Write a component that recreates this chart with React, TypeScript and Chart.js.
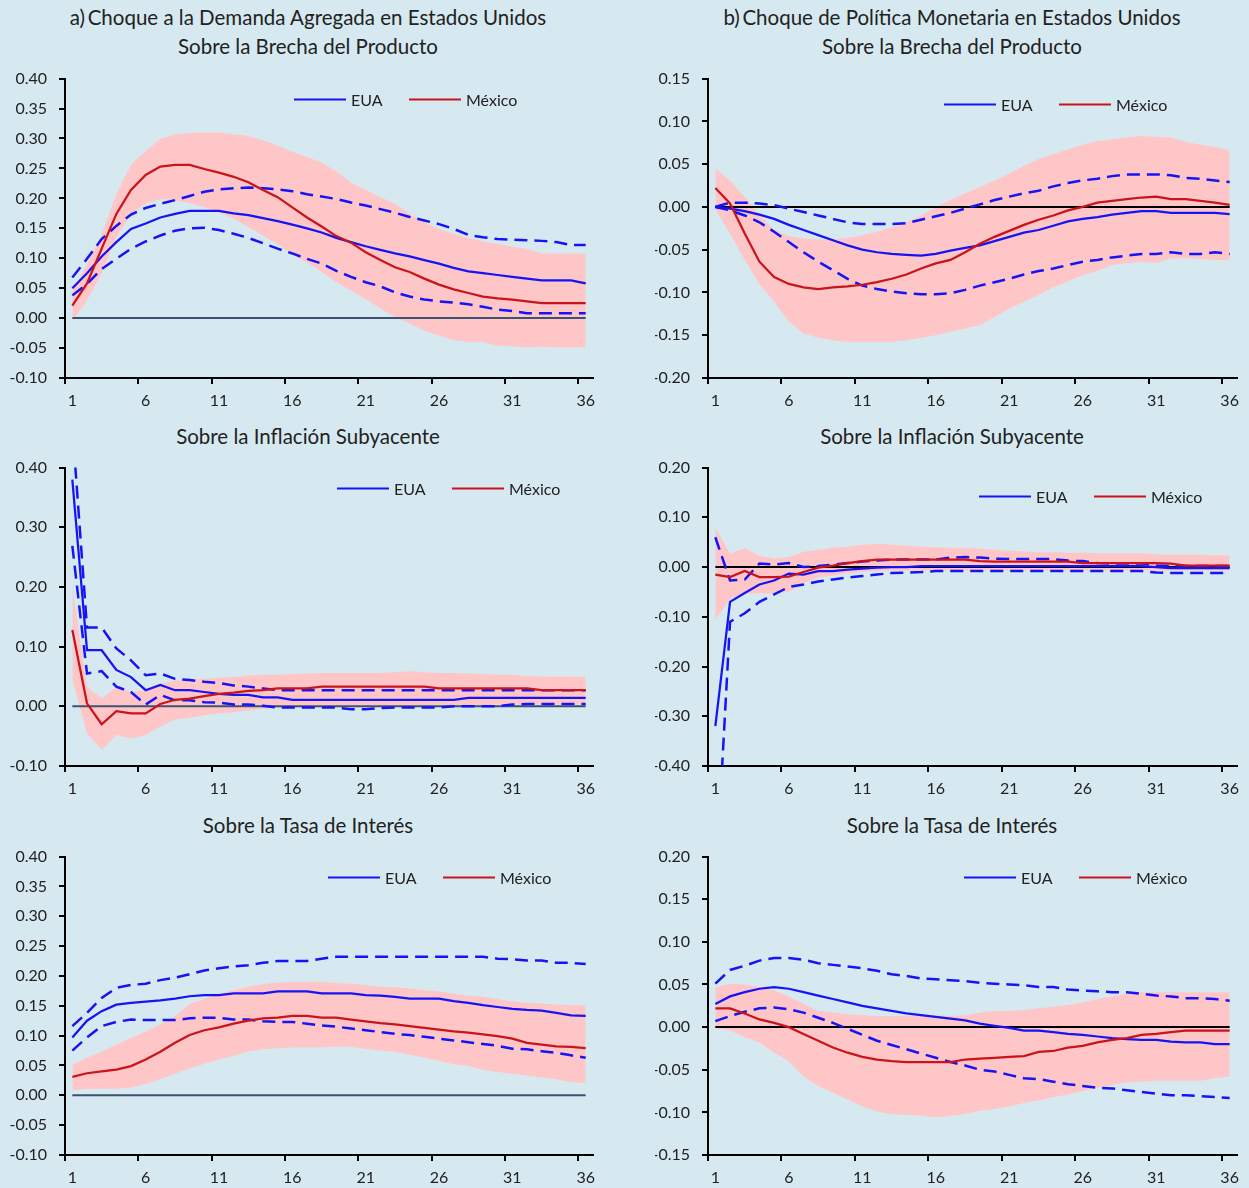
import React, { useEffect, useRef } from "react";
import { Chart, registerables } from "chart.js";

Chart.register(...registerables);

// ---------- Data ----------
const periods = ["1","2","3","4","5","6","7","8","9","10","11","12","13","14","15","16","17","18","19","20","21","22","23","24","25","26","27","28","29","30","31","32","33","34","35","36"];
const zeroLine = [0,0,0,0,0,0,0,0,0,0,0,0,0,0,0,0,0,0,0,0,0,0,0,0,0,0,0,0,0,0,0,0,0,0,0,0];

// a) Demanda agregada EUA -> Brecha del producto
const a1Mex = [0.021,0.058,0.116,0.174,0.214,0.239,0.253,0.256,0.256,0.249,0.243,0.236,0.227,0.214,0.202,0.185,0.168,0.153,0.137,0.126,0.110,0.097,0.085,0.077,0.066,0.056,0.048,0.042,0.036,0.033,0.031,0.028,0.025,0.025,0.025,0.025];
const a1MexHi = [0.045,0.090,0.140,0.207,0.256,0.279,0.299,0.307,0.309,0.310,0.310,0.307,0.304,0.297,0.288,0.278,0.269,0.260,0.245,0.226,0.214,0.202,0.191,0.174,0.160,0.149,0.141,0.134,0.128,0.124,0.119,0.116,0.108,0.108,0.108,0.108];
const a1MexLo = [-0.005,0.030,0.074,0.135,0.174,0.191,0.199,0.197,0.192,0.185,0.177,0.166,0.152,0.138,0.123,0.107,0.093,0.077,0.060,0.046,0.032,0.016,0.002,-0.009,-0.021,-0.029,-0.037,-0.040,-0.040,-0.046,-0.047,-0.049,-0.048,-0.049,-0.049,-0.049];
const a1Eua = [0.050,0.075,0.103,0.127,0.149,0.158,0.168,0.174,0.179,0.179,0.179,0.175,0.172,0.167,0.162,0.156,0.150,0.143,0.134,0.127,0.120,0.114,0.108,0.103,0.097,0.091,0.084,0.078,0.075,0.072,0.069,0.066,0.063,0.063,0.063,0.058];
const a1EuaHi = [0.068,0.099,0.132,0.154,0.173,0.184,0.191,0.197,0.204,0.211,0.215,0.217,0.218,0.217,0.215,0.212,0.207,0.203,0.199,0.193,0.188,0.182,0.176,0.169,0.163,0.157,0.149,0.139,0.135,0.132,0.131,0.130,0.129,0.127,0.122,0.122];
const a1EuaLo = [0.038,0.057,0.082,0.099,0.116,0.128,0.138,0.146,0.150,0.151,0.147,0.141,0.134,0.125,0.116,0.108,0.099,0.091,0.079,0.069,0.060,0.053,0.043,0.036,0.031,0.028,0.026,0.023,0.019,0.014,0.012,0.008,0.008,0.008,0.008,0.008];

// b) Política monetaria EUA -> Brecha del producto
const b1Mex = [0.022,0.004,-0.031,-0.064,-0.082,-0.090,-0.094,-0.096,-0.094,-0.093,-0.091,-0.088,-0.084,-0.079,-0.072,-0.066,-0.062,-0.053,-0.043,-0.035,-0.028,-0.021,-0.015,-0.010,-0.004,0.000,0.005,0.007,0.009,0.011,0.012,0.009,0.009,0.007,0.005,0.0025];
const b1MexHi = [0.045,0.031,0.012,-0.010,-0.027,-0.034,-0.037,-0.038,-0.038,-0.036,-0.033,-0.029,-0.024,-0.018,-0.010,0.000,0.008,0.016,0.023,0.031,0.039,0.048,0.056,0.062,0.067,0.073,0.077,0.079,0.081,0.083,0.082,0.081,0.076,0.073,0.070,0.066];
const b1MexLo = [-0.003,-0.031,-0.062,-0.090,-0.111,-0.134,-0.148,-0.153,-0.156,-0.158,-0.158,-0.158,-0.158,-0.156,-0.153,-0.150,-0.146,-0.142,-0.138,-0.129,-0.119,-0.111,-0.103,-0.094,-0.087,-0.080,-0.075,-0.068,-0.066,-0.064,-0.066,-0.060,-0.060,-0.061,-0.062,-0.062];
const b1Eua = [0,-0.002,-0.005,-0.009,-0.014,-0.021,-0.027,-0.033,-0.039,-0.045,-0.050,-0.053,-0.055,-0.056,-0.057,-0.055,-0.051,-0.048,-0.045,-0.040,-0.035,-0.030,-0.027,-0.022,-0.017,-0.014,-0.012,-0.009,-0.007,-0.005,-0.005,-0.007,-0.007,-0.007,-0.007,-0.0085];
const b1EuaHi = [0,0.005,0.005,0.004,0.002,-0.002,-0.006,-0.010,-0.014,-0.018,-0.020,-0.020,-0.020,-0.019,-0.015,-0.011,-0.007,-0.002,0.003,0.008,0.012,0.016,0.019,0.024,0.028,0.031,0.033,0.036,0.038,0.038,0.038,0.037,0.034,0.033,0.031,0.029];
const b1EuaLo = [0,-0.004,-0.010,-0.018,-0.029,-0.041,-0.053,-0.064,-0.074,-0.084,-0.092,-0.096,-0.099,-0.101,-0.102,-0.102,-0.101,-0.097,-0.092,-0.088,-0.084,-0.079,-0.075,-0.072,-0.068,-0.064,-0.062,-0.059,-0.057,-0.055,-0.055,-0.053,-0.055,-0.055,-0.053,-0.055];

// a) -> Inflación subyacente
const a2Mex = [0.128,0.005,-0.030,-0.008,-0.012,-0.012,0.004,0.011,0.013,0.017,0.021,0.023,0.026,0.027,0.030,0.030,0.030,0.033,0.033,0.033,0.033,0.033,0.033,0.033,0.033,0.030,0.030,0.030,0.030,0.030,0.030,0.030,0.027,0.027,0.027,0.027];
const a2MexHi = [0.200,0.033,0.013,0.033,0.024,0.027,0.038,0.043,0.045,0.046,0.048,0.049,0.052,0.053,0.053,0.054,0.055,0.056,0.056,0.056,0.056,0.056,0.057,0.059,0.057,0.056,0.056,0.055,0.054,0.053,0.053,0.051,0.050,0.050,0.050,0.050];
const a2MexLo = [0.045,-0.045,-0.073,-0.048,-0.054,-0.048,-0.034,-0.022,-0.019,-0.015,-0.012,-0.010,-0.007,-0.004,-0.003,-0.002,-0.001,0.000,0.000,0.001,0.001,0.001,0.001,0.001,0.002,0.002,0.002,0.002,0.002,0.003,0.003,0.003,0.003,0.003,0.003,0.003];
const a2Eua = [0.380,0.094,0.094,0.061,0.049,0.027,0.036,0.027,0.027,0.024,0.021,0.019,0.019,0.015,0.015,0.011,0.011,0.011,0.011,0.011,0.011,0.011,0.011,0.011,0.011,0.011,0.011,0.014,0.014,0.014,0.014,0.014,0.014,0.014,0.014,0.014];
const a2EuaHi = [0.470,0.132,0.132,0.097,0.077,0.052,0.055,0.046,0.044,0.041,0.039,0.035,0.033,0.030,0.027,0.027,0.027,0.027,0.027,0.027,0.027,0.027,0.027,0.027,0.027,0.027,0.027,0.027,0.027,0.027,0.027,0.027,0.027,0.027,0.027,0.027];
const a2EuaLo = [0.269,0.055,0.059,0.033,0.024,0.003,0.019,0.010,0.010,0.007,0.006,0.003,0.003,0.001,-0.002,-0.002,-0.002,-0.002,-0.002,-0.005,-0.005,-0.003,-0.002,-0.002,-0.002,-0.002,0.000,0.000,0.000,0.000,0.003,0.004,0.004,0.004,0.004,0.004];

// b) -> Inflación subyacente
const b2Mex = [-0.015,-0.020,-0.008,-0.020,-0.020,-0.019,-0.010,-0.001,0.003,0.008,0.012,0.015,0.015,0.015,0.015,0.015,0.015,0.015,0.012,0.011,0.011,0.011,0.011,0.011,0.011,0.008,0.008,0.008,0.008,0.008,0.008,0.007,0.003,0.003,0.003,0.003];
const b2MexHi = [0.080,0.027,0.038,0.023,0.017,0.020,0.031,0.035,0.039,0.041,0.045,0.047,0.045,0.043,0.041,0.040,0.039,0.039,0.037,0.035,0.033,0.032,0.030,0.030,0.029,0.029,0.028,0.028,0.028,0.028,0.026,0.025,0.025,0.025,0.024,0.024];
const b2MexLo = [-0.107,-0.063,-0.053,-0.053,-0.053,-0.050,-0.033,-0.021,-0.017,-0.013,-0.010,-0.008,-0.007,-0.007,-0.007,-0.007,-0.007,-0.007,-0.007,-0.007,-0.007,-0.007,-0.007,-0.007,-0.007,-0.007,-0.007,-0.007,-0.007,-0.007,-0.007,-0.007,-0.007,-0.007,-0.007,-0.007];
const b2Eua = [-0.320,-0.070,-0.052,-0.035,-0.027,-0.013,-0.015,-0.008,-0.008,-0.005,-0.003,-0.001,0.000,0.000,0.002,0.002,0.002,0.002,0.002,0.002,0.002,0.002,0.002,0.002,0.002,0.002,0.002,0.002,0.002,0.002,0.000,-0.002,-0.002,-0.002,-0.002,-0.002];
const b2EuaHi = [0.060,-0.027,-0.025,0.007,0.005,0.008,0.000,0.002,0.005,0.008,0.011,0.013,0.015,0.015,0.015,0.015,0.019,0.020,0.019,0.017,0.016,0.016,0.016,0.016,0.013,0.012,0.008,0.007,0.007,0.007,0.003,0.002,0.002,0.002,0.002,0.002];
const b2EuaLo = [-0.650,-0.110,-0.093,-0.070,-0.055,-0.040,-0.035,-0.029,-0.025,-0.021,-0.018,-0.015,-0.012,-0.011,-0.010,-0.008,-0.008,-0.008,-0.008,-0.008,-0.008,-0.008,-0.008,-0.008,-0.008,-0.008,-0.008,-0.008,-0.008,-0.008,-0.011,-0.012,-0.012,-0.012,-0.012,-0.012];

// a) -> Tasa de interés
const a3Mex = [0.031,0.037,0.040,0.043,0.049,0.060,0.073,0.088,0.101,0.109,0.114,0.120,0.125,0.129,0.130,0.133,0.133,0.130,0.130,0.127,0.124,0.121,0.119,0.116,0.113,0.110,0.107,0.105,0.102,0.099,0.095,0.088,0.085,0.082,0.081,0.079];
const a3MexHi = [0.051,0.063,0.073,0.085,0.096,0.107,0.119,0.133,0.153,0.162,0.170,0.176,0.182,0.186,0.189,0.190,0.190,0.190,0.188,0.187,0.185,0.182,0.181,0.179,0.176,0.174,0.170,0.167,0.165,0.161,0.157,0.155,0.154,0.152,0.151,0.151];
const a3MexLo = [0.008,0.011,0.011,0.011,0.013,0.019,0.027,0.036,0.045,0.053,0.060,0.066,0.074,0.077,0.079,0.080,0.080,0.080,0.082,0.081,0.078,0.075,0.073,0.068,0.063,0.058,0.052,0.049,0.043,0.039,0.036,0.033,0.030,0.027,0.022,0.021];
const a3Eua = [0.097,0.125,0.141,0.152,0.155,0.157,0.159,0.162,0.166,0.168,0.168,0.171,0.171,0.171,0.174,0.174,0.174,0.171,0.171,0.171,0.168,0.167,0.165,0.162,0.162,0.162,0.158,0.155,0.151,0.148,0.145,0.143,0.142,0.138,0.134,0.133];
const a3EuaHi = [0.116,0.138,0.163,0.180,0.185,0.187,0.193,0.197,0.203,0.209,0.213,0.216,0.218,0.222,0.225,0.225,0.225,0.229,0.232,0.232,0.232,0.232,0.232,0.232,0.232,0.232,0.232,0.232,0.232,0.229,0.228,0.226,0.226,0.222,0.222,0.220];
const a3EuaLo = [0.075,0.097,0.116,0.123,0.127,0.126,0.126,0.126,0.129,0.130,0.130,0.127,0.127,0.124,0.123,0.123,0.120,0.117,0.115,0.112,0.109,0.106,0.103,0.101,0.098,0.095,0.092,0.089,0.086,0.083,0.078,0.077,0.074,0.071,0.067,0.063];

// b) -> Tasa de interés
const b3Mex = [0.022,0.022,0.016,0.009,0.005,0.000,-0.008,-0.016,-0.024,-0.030,-0.035,-0.038,-0.040,-0.041,-0.041,-0.041,-0.041,-0.038,-0.037,-0.036,-0.035,-0.034,-0.029,-0.028,-0.024,-0.022,-0.018,-0.015,-0.013,-0.009,-0.008,-0.006,-0.004,-0.004,-0.004,-0.004];
const b3MexHi = [0.047,0.051,0.050,0.047,0.043,0.036,0.027,0.019,0.017,0.015,0.014,0.013,0.013,0.013,0.013,0.013,0.013,0.014,0.017,0.019,0.019,0.020,0.022,0.024,0.026,0.029,0.033,0.036,0.039,0.041,0.041,0.041,0.041,0.041,0.041,0.041];
const b3MexLo = [-0.001,-0.004,-0.012,-0.018,-0.030,-0.040,-0.058,-0.069,-0.077,-0.085,-0.093,-0.099,-0.102,-0.103,-0.104,-0.106,-0.104,-0.102,-0.098,-0.096,-0.093,-0.089,-0.086,-0.082,-0.079,-0.075,-0.071,-0.068,-0.065,-0.064,-0.063,-0.063,-0.063,-0.063,-0.060,-0.058];
const b3Eua = [0.027,0.036,0.041,0.045,0.047,0.045,0.041,0.037,0.033,0.029,0.025,0.022,0.019,0.016,0.014,0.012,0.010,0.008,0.004,0.0015,-0.001,-0.004,-0.004,-0.006,-0.008,-0.009,-0.011,-0.013,-0.014,-0.015,-0.015,-0.017,-0.018,-0.018,-0.020,-0.020];
const b3EuaHi = [0.051,0.067,0.072,0.078,0.081,0.081,0.079,0.075,0.073,0.071,0.069,0.066,0.062,0.060,0.057,0.056,0.055,0.054,0.052,0.051,0.050,0.049,0.047,0.047,0.044,0.043,0.042,0.041,0.041,0.039,0.037,0.036,0.034,0.034,0.033,0.031];
const b3EuaLo = [0.007,0.013,0.018,0.022,0.023,0.021,0.017,0.011,0.005,-0.002,-0.009,-0.016,-0.021,-0.026,-0.031,-0.036,-0.041,-0.045,-0.050,-0.052,-0.056,-0.060,-0.061,-0.064,-0.067,-0.069,-0.071,-0.072,-0.074,-0.076,-0.078,-0.080,-0.080,-0.081,-0.082,-0.083];

// ---------- Styles ----------
const BG = "#D7E9F0";
const RED = "#C8141A";
const BLUE = "#1414F5";
const PINK = "#FFC6C8";
const TEXT = "#222222";
const FONT = "Lato, 'Open Sans', sans-serif";

type Panel = {
  left: number; top: number; width: number; height: number;
  yMin: number; yMax: number; step: number;
  axisW: number; padR: number; legendDx: number; legendDy: number;
  zeroColor: string;
  mex: number[]; mexHi: number[]; mexLo: number[];
  eua: number[]; euaHi: number[]; euaLo: number[];
};

const panels: Panel[] = [
  { left: 0, top: 57, width: 616, height: 355, yMin: -0.1, yMax: 0.4, step: 0.05, axisW: 65, padR: 23, legendDx: 229, legendDy: 21, zeroColor: "#3D5270",
    mex: a1Mex, mexHi: a1MexHi, mexLo: a1MexLo, eua: a1Eua, euaHi: a1EuaHi, euaLo: a1EuaLo },
  { left: 655, top: 57, width: 594, height: 355, yMin: -0.2, yMax: 0.15, step: 0.05, axisW: 53, padR: 12, legendDx: 236, legendDy: 26, zeroColor: "#000000",
    mex: b1Mex, mexHi: b1MexHi, mexLo: b1MexLo, eua: b1Eua, euaHi: b1EuaHi, euaLo: b1EuaLo },
  { left: 0, top: 446, width: 616, height: 354, yMin: -0.1, yMax: 0.4, step: 0.1, axisW: 65, padR: 23, legendDx: 272, legendDy: 21, zeroColor: "#3D5270",
    mex: a2Mex, mexHi: a2MexHi, mexLo: a2MexLo, eua: a2Eua, euaHi: a2EuaHi, euaLo: a2EuaLo },
  { left: 655, top: 446, width: 594, height: 354, yMin: -0.4, yMax: 0.2, step: 0.1, axisW: 53, padR: 12, legendDx: 271, legendDy: 29, zeroColor: "#000000",
    mex: b2Mex, mexHi: b2MexHi, mexLo: b2MexLo, eua: b2Eua, euaHi: b2EuaHi, euaLo: b2EuaLo },
  { left: 0, top: 835, width: 616, height: 354, yMin: -0.1, yMax: 0.4, step: 0.05, axisW: 65, padR: 23, legendDx: 263, legendDy: 21, zeroColor: "#3D5270",
    mex: a3Mex, mexHi: a3MexHi, mexLo: a3MexLo, eua: a3Eua, euaHi: a3EuaHi, euaLo: a3EuaLo },
  { left: 655, top: 835, width: 594, height: 354, yMin: -0.15, yMax: 0.2, step: 0.05, axisW: 53, padR: 12, legendDx: 256, legendDy: 21, zeroColor: "#000000",
    mex: b3Mex, mexHi: b3MexHi, mexLo: b3MexLo, eua: b3Eua, euaHi: b3EuaHi, euaLo: b3EuaLo },
];

const titles = [
  { left: 0, width: 616, top: 3, lines: ["a)\u2009Choque a la Demanda Agregada en Estados Unidos", "Sobre la Brecha del Producto"] },
  { left: 655, width: 594, top: 3, lines: ["b)\u2009Choque de Política Monetaria en Estados Unidos", "Sobre la Brecha del Producto"] },
  { left: 0, width: 616, top: 422, lines: ["Sobre la Inflación Subyacente"] },
  { left: 655, width: 594, top: 422, lines: ["Sobre la Inflación Subyacente"] },
  { left: 0, width: 616, top: 811, lines: ["Sobre la Tasa de Interés"] },
  { left: 655, width: 594, top: 811, lines: ["Sobre la Tasa de Interés"] },
];

const insideLegend = {
  id: "insideLegend",
  afterDatasetsDraw(chart: any, _args: any, opts: any) {
    const { ctx, chartArea } = chart;
    const items = ["EUA", "México"].map((lbl) => chart.data.datasets.find((d: any) => d.label === lbl));
    let x = chartArea.left + opts.dx;
    const y = chartArea.top + opts.dy;
    ctx.save();
    ctx.font = `16px ${FONT}`;
    ctx.textBaseline = "middle";
    ctx.textAlign = "left";
    items.forEach((d: any) => {
      ctx.strokeStyle = d.borderColor;
      ctx.lineWidth = 2;
      ctx.beginPath();
      ctx.moveTo(x, y);
      ctx.lineTo(x + 52, y);
      ctx.stroke();
      ctx.fillStyle = TEXT;
      ctx.fillText(d.label, x + 57, y + 1);
      x += 115;
    });
    ctx.restore();
  },
};

function fmt(v: any) {
  const n = Number(v);
  return Math.abs(n) < 1e-9 ? "0.00" : n.toFixed(2);
}

function PanelChart({ p }: { p: Panel }) {
  const ref = useRef<HTMLCanvasElement | null>(null);
  useEffect(() => {
    if (!ref.current) return;
    const chart = new Chart(ref.current, {
      type: "line",
      data: {
        labels: periods,
        datasets: [
          { label: "México", data: p.mex, borderColor: RED, borderWidth: 2.25, pointRadius: 0, fill: false, order: 0 },
          { label: "EUA", data: p.eua, borderColor: BLUE, borderWidth: 2.25, pointRadius: 0, fill: false, order: 1 },
          { label: "EUA sup", data: p.euaHi, borderColor: BLUE, borderWidth: 2.5, borderDash: [13, 7], pointRadius: 0, fill: false, order: 2 },
          { label: "EUA inf", data: p.euaLo, borderColor: BLUE, borderWidth: 2.5, borderDash: [13, 7], pointRadius: 0, fill: false, order: 3 },
          { label: "cero", data: zeroLine, borderColor: p.zeroColor, borderWidth: 2, pointRadius: 0, fill: false, order: 4 },
          { label: "México sup", data: p.mexHi, borderColor: "rgba(0,0,0,0)", borderWidth: 0, backgroundColor: PINK, pointRadius: 0, fill: "+1", order: 5 },
          { label: "México inf", data: p.mexLo, borderColor: "rgba(0,0,0,0)", borderWidth: 0, pointRadius: 0, fill: false, order: 6 },
        ],
      },
      options: {
        responsive: false,
        animation: false,
        events: [],
        layout: { padding: { top: 15, right: p.padR, left: 0, bottom: 0 } },
        plugins: {
          legend: { display: false },
          tooltip: { enabled: false },
          insideLegend: { dx: p.legendDx, dy: p.legendDy },
        } as any,
        scales: {
          x: {
            type: "category",
            offset: true,
            grid: {
              offset: true,
              drawOnChartArea: false,
              tickLength: 6,
              lineWidth: 2,
              color: (c: any) => (c.index !== undefined && c.index % 5 === 0 ? "#000000" : "rgba(0,0,0,0)"),
            },
            border: { color: "#000000", width: 2 },
            ticks: {
              autoSkip: false,
              maxRotation: 0,
              padding: 7,
              color: TEXT,
              font: { family: FONT, size: 16 },
              callback: (_v: any, i: number) => (i % 5 === 0 ? periods[i] : ""),
            },
            afterFit: (s: any) => { s.height = 34; },
          },
          y: {
            min: p.yMin,
            max: p.yMax,
            grid: { drawOnChartArea: false, tickLength: 6, lineWidth: 2, color: "#000000" },
            border: { color: "#000000", width: 2 },
            ticks: {
              stepSize: p.step,
              padding: 12,
              color: TEXT,
              font: { family: FONT, size: 16 },
              callback: (v: any) => fmt(v),
            },
            afterFit: (s: any) => { s.width = p.axisW; },
          },
        },
      },
      plugins: [insideLegend],
    } as any);
    return () => chart.destroy();
  }, [p]);
  return (
    <canvas
      ref={ref}
      width={p.width}
      height={p.height}
      style={{ position: "absolute", left: p.left, top: p.top, width: p.width, height: p.height }}
    />
  );
}

export default function App() {
  return (
    <div style={{ position: "fixed", left: 0, top: 0, width: 1249, height: 1188, background: BG, overflow: "hidden", fontFamily: FONT }}>
      {titles.map((t, i) => (
        <div
          key={i}
          style={{ position: "absolute", left: t.left, top: t.top, width: t.width, textAlign: "center", fontSize: 20.5, lineHeight: "29px", color: TEXT }}
        >
          {t.lines.map((l, j) => (
            <div key={j}>{l}</div>
          ))}
        </div>
      ))}
      {panels.map((p, i) => (
        <PanelChart key={i} p={p} />
      ))}
    </div>
  );
}
